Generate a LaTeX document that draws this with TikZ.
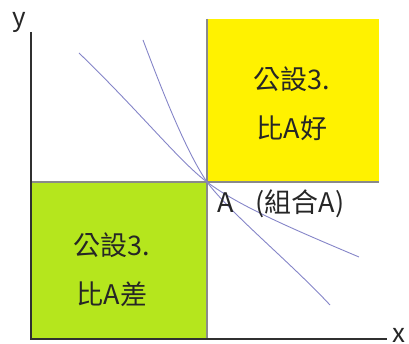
\documentclass[tikz,border=0pt]{standalone}
\usepackage{fontspec}
\newfontfamily\cjk{Noto Sans CJK TC}
\definecolor{goodyellow}{HTML}{FFF200}
\definecolor{badgreen}{HTML}{B5E61D}
\definecolor{curveblue}{HTML}{8585C8}
\definecolor{divgray}{HTML}{8A8A8A}
\definecolor{axisgray}{HTML}{303030}
\tikzset{
  region/.style={inner sep=0pt, outer sep=0pt, anchor=north west},
  lbl/.style={font=\cjk\fontsize{27}{49}\selectfont, text=black!85, align=center, inner sep=0pt},
  axislbl/.style={font=\cjk\fontsize{26}{26}\selectfont, text=black!85, inner sep=0pt},
  divider/.style={draw=divgray, line width=1.4pt},
  axisline/.style={draw=axisgray, line width=2.6pt},
  icurve/.style={draw=curveblue, line width=0.9pt}
}
\begin{document}
\begin{tikzpicture}[x=1pt,y=-1pt]
\useasboundingbox (0,0) rectangle (409,344);
% regions
\node[region, fill=goodyellow, minimum width=172pt, minimum height=163pt] (good) at (207,19) {};
\node[region, fill=badgreen, minimum width=176pt, minimum height=157pt] (bad) at (31,182) {};
% dividers
\coordinate (A) at (207,182);
\coordinate (hl) at (31,182);
\coordinate (hr) at (379,182);
\coordinate (vt) at (207,19);
\coordinate (vb) at (207,339);
\draw[divider] (hl) -- (hr);
\draw[divider] (vt) -- (vb);
% curves
\coordinate (c1s) at (79,53);
\coordinate (c1e) at (359,257);
\coordinate (c2s) at (143,40);
\coordinate (c2e) at (330,305);
\draw[icurve] (c1s) .. controls (140,112) and (180,162) .. (A) .. controls (240,207) and (300,232) .. (c1e);
\draw[icurve] (c2s) .. controls (160,85) and (185,150) .. (A) .. controls (230,213) and (290,262) .. (c2e);
% axes
\coordinate (O) at (31,339);
\coordinate (ytop) at (31,32);
\coordinate (xend) at (387,339);
\draw[axisline] (ytop) -- (O.center) -- (xend);
\node[axislbl] (ylbl) at (19,22) {y};
\node[axislbl] (xlbl) at (399,335) {x};
% labels
\node[lbl] (goodtxt) at (292,104) {公設3.\\比A好};
\node[lbl] (badtxt) at (112,270) {公設3.\\比A差};
\node[lbl, anchor=west] (Alabel) at (217,204) {A\hspace{22pt}(組合A)};
\end{tikzpicture}
\end{document}
